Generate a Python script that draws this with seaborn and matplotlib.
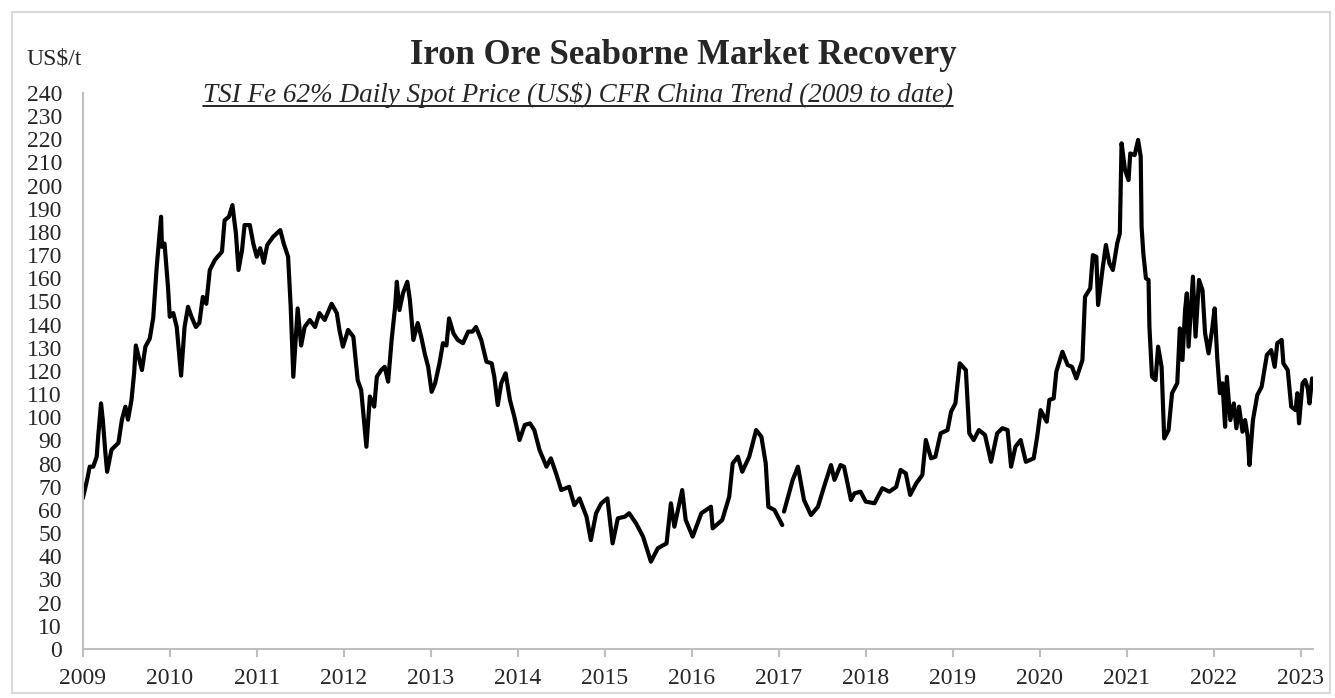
import numpy as np
import pandas as pd
import matplotlib.pyplot as plt
from matplotlib.lines import Line2D
from matplotlib.patches import Rectangle
import seaborn as sns

sns.set_style("white")
plt.rcParams['font.family'] = ['Liberation Serif', 'DejaVu Serif']

# TSI Fe 62% spot price (US$/t)
year = [
    2009.00, 2009.05, 2009.08, 2009.12, 2009.16, 2009.18, 2009.21, 2009.23, 2009.26, 2009.28,
    2009.33, 2009.41, 2009.45, 2009.49, 2009.52, 2009.56, 2009.59, 2009.61, 2009.68, 2009.72,
    2009.77, 2009.81, 2009.85, 2009.90, 2009.91, 2009.94, 2009.98, 2010.00, 2010.04, 2010.08,
    2010.13, 2010.17, 2010.21, 2010.25, 2010.30, 2010.34, 2010.38, 2010.42, 2010.46, 2010.52,
    2010.60, 2010.63, 2010.68, 2010.72, 2010.76, 2010.79, 2010.83, 2010.86, 2010.92, 2010.96,
    2011.00, 2011.04, 2011.08, 2011.12, 2011.19, 2011.27, 2011.31, 2011.36, 2011.39, 2011.42,
    2011.47, 2011.51, 2011.55, 2011.61, 2011.67, 2011.72, 2011.78, 2011.86, 2011.92, 2011.95,
    2011.99, 2012.05, 2012.11, 2012.16, 2012.20, 2012.26, 2012.30, 2012.35, 2012.38, 2012.43,
    2012.47, 2012.51, 2012.55, 2012.59, 2012.61, 2012.64, 2012.68, 2012.73, 2012.76, 2012.80,
    2012.85, 2012.89, 2012.93, 2012.97, 2013.01, 2013.05, 2013.10, 2013.14, 2013.18, 2013.21,
    2013.26, 2013.31, 2013.37, 2013.43, 2013.48, 2013.52, 2013.58, 2013.64, 2013.70, 2013.73,
    2013.77, 2013.81, 2013.86, 2013.91, 2013.96, 2014.02, 2014.08, 2014.14, 2014.19, 2014.25,
    2014.33, 2014.38, 2014.44, 2014.50, 2014.59, 2014.65, 2014.71, 2014.79, 2014.84, 2014.90,
    2014.96, 2015.03, 2015.09, 2015.15, 2015.23, 2015.28, 2015.36, 2015.44, 2015.53, 2015.61,
    2015.71, 2015.76, 2015.80, 2015.89, 2015.93, 2016.01, 2016.11, 2016.22, 2016.24, 2016.35,
    2016.43, 2016.47, 2016.53, 2016.58, 2016.66, 2016.74, 2016.80, 2016.85, 2016.88, 2016.95,
    2017.04, 2017.05, 2017.06, 2017.16, 2017.22, 2017.29, 2017.37, 2017.45, 2017.52, 2017.60,
    2017.64, 2017.71, 2017.75, 2017.83, 2017.87, 2017.94, 2018.00, 2018.10, 2018.19, 2018.27,
    2018.35, 2018.40, 2018.46, 2018.51, 2018.58, 2018.65, 2018.69, 2018.75, 2018.80, 2018.86,
    2018.94, 2018.98, 2019.03, 2019.08, 2019.15, 2019.19, 2019.24, 2019.30, 2019.37, 2019.44,
    2019.51, 2019.57, 2019.63, 2019.67, 2019.72, 2019.78, 2019.84, 2019.93, 2019.97, 2020.01,
    2020.08, 2020.11, 2020.16, 2020.19, 2020.26, 2020.32, 2020.37, 2020.42, 2020.49, 2020.52,
    2020.58, 2020.61, 2020.65, 2020.67, 2020.72, 2020.76, 2020.80, 2020.84, 2020.89, 2020.92,
    2020.94, 2020.98, 2021.02, 2021.04, 2021.09, 2021.13, 2021.16, 2021.17, 2021.19, 2021.22,
    2021.25, 2021.26, 2021.29, 2021.33, 2021.36, 2021.40, 2021.43, 2021.48, 2021.52, 2021.58,
    2021.61, 2021.64, 2021.67, 2021.69, 2021.71, 2021.76, 2021.79, 2021.83, 2021.87, 2021.90,
    2021.94, 2021.98, 2022.01, 2022.04, 2022.07, 2022.10, 2022.13, 2022.15, 2022.19, 2022.23,
    2022.26, 2022.29, 2022.33, 2022.36, 2022.39, 2022.41, 2022.45, 2022.50, 2022.55, 2022.61,
    2022.66, 2022.70, 2022.73, 2022.78, 2022.80, 2022.85, 2022.89, 2022.94, 2022.96, 2022.98,
    2023.02, 2023.05, 2023.08, 2023.10, 2023.13,
]
price = [
    65.0, 73.0, 78.7, 78.7, 83.0, 93.0, 106.0, 99.0, 84.6, 76.5,
    86.0, 89.0, 99.0, 104.6, 99.0, 107.5, 119.0, 131.0, 120.4, 130.5,
    134.0, 143.0, 165.0, 186.6, 173.6, 175.0, 156.0, 143.4, 145.0, 139.0,
    118.0, 139.0, 147.7, 143.4, 139.0, 140.7, 152.0, 149.0, 163.6, 168.0,
    171.5, 185.0, 186.6, 191.6, 179.5, 163.6, 172.0, 183.0, 183.0, 175.0,
    169.3, 173.0, 166.7, 174.4, 178.0, 180.8, 175.0, 169.3, 147.7, 117.5,
    147.0, 131.0, 139.0, 142.0, 139.0, 145.0, 142.0, 149.0, 145.0, 137.7,
    130.5, 137.7, 134.8, 116.0, 111.8, 87.3, 109.0, 104.6, 117.5, 120.4,
    121.8, 115.4, 133.4, 147.7, 158.5, 146.3, 153.5, 158.5, 150.6, 133.4,
    140.7, 134.8, 127.6, 121.8, 111.0, 114.7, 123.3, 132.0, 131.0, 142.7,
    136.3, 133.4, 132.0, 137.0, 137.0, 139.0, 133.4, 124.0, 123.3, 117.5,
    105.3, 114.7, 119.0, 107.5, 100.3, 90.2, 96.7, 97.4, 94.5, 85.9,
    78.7, 82.3, 75.8, 68.6, 70.0, 62.1, 65.0, 57.1, 47.0, 58.6,
    62.9, 65.0, 45.6, 56.4, 57.1, 58.6, 54.2, 48.5, 37.7, 43.5,
    45.6, 62.9, 52.8, 68.6, 55.7, 48.5, 58.6, 61.4, 52.1, 55.7,
    65.7, 80.1, 83.0, 76.5, 83.0, 94.5, 91.6, 80.1, 61.4, 60.0,
    53.5, np.nan, 59.3, 73.0, 78.7, 64.3, 57.8, 61.4, 70.0, 79.4,
    73.0, 79.4, 78.7, 64.3, 67.2, 67.9, 63.6, 62.9, 69.4, 67.9,
    70.0, 77.3, 75.8, 66.5, 71.5, 75.1, 90.2, 82.3, 83.0, 93.1,
    94.5, 102.4, 106.0, 123.3, 120.4, 93.1, 90.2, 94.5, 92.4, 80.8,
    93.1, 95.3, 94.5, 78.7, 87.3, 90.2, 80.8, 82.3, 91.6, 103.1,
    98.1, 107.5, 108.2, 119.7, 128.3, 122.6, 121.8, 116.8, 124.7, 152.0,
    155.7, 170.0, 169.3, 148.5, 163.6, 174.4, 166.5, 163.6, 175.1, 179.4,
    218.3, 206.7, 202.4, 213.9, 213.2, 219.7, 212.5, 182.3, 170.8, 160.0,
    159.3, 139.1, 117.5, 116.1, 130.5, 121.8, 90.9, 94.5, 110.4, 114.7,
    138.4, 124.7, 146.3, 153.5, 130.5, 160.7, 134.8, 159.3, 154.9, 136.3,
    127.6, 137.7, 147.0, 125.5, 110.4, 114.7, 95.9, 117.5, 98.8, 106.0,
    95.3, 104.6, 93.8, 98.8, 91.6, 79.4, 98.8, 109.6, 113.2, 126.9,
    129.0, 121.8, 132.0, 133.4, 123.3, 120.4, 104.6, 103.1, 110.4, 97.4,
    114.7, 116.1, 112.5, 106.0, 116.8,
]
year_ticks = list(range(2009, 2024))
price_ticks = list(range(0, 241, 10))

df = pd.DataFrame({"year": year, "price": price})
df["seg"] = df["price"].isna().cumsum()
df = df.dropna()

fig = plt.figure(figsize=(13.35, 6.98), dpi=100)
ax = fig.add_axes([0.062, 0.0702, 0.9215, 0.7966])

sns.lineplot(data=df, x="year", y="price", units="seg", estimator=None,
             color="black", linewidth=3.0, ax=ax, legend=False)

ax.set_xlim(2009, 2023.14)
ax.set_ylim(0, 240)
ax.set_xticks(year_ticks)
ax.set_xticklabels([str(y) for y in year_ticks])
ax.set_yticks(price_ticks)
ax.set_yticklabels([str(p) for p in price_ticks])
ax.set_xlabel("")
ax.set_ylabel("")

for side in ["top", "right"]:
    ax.spines[side].set_visible(False)
for side in ["left", "bottom"]:
    ax.spines[side].set_color("#bfbfbf")
    ax.spines[side].set_linewidth(1.5)

ax.tick_params(axis="x", bottom=True, length=6, width=1.5, color="#bfbfbf",
               direction="out", labelsize=17, pad=7.5)
ax.tick_params(axis="y", left=False, labelsize=17, pad=11.5)

# titles
fig.text(26 / 1335, 1 - 65 / 698, "US$/t", fontsize=17, ha="left", va="baseline")
fig.text(683 / 1335, 1 - 64 / 698, "Iron Ore Seaborne Market Recovery",
         fontsize=25, fontweight="bold", ha="center", va="baseline")
sub = fig.text(578 / 1335, 1 - 102 / 698,
               "TSI Fe 62% Daily Spot Price (US$) CFR China Trend (2009 to date)",
               fontsize=19.5, style="italic", ha="center", va="baseline")

# underline the subtitle
renderer = fig.canvas.get_renderer()
bb = sub.get_window_extent(renderer=renderer)
uy = 1 - 105.5 / 698
fig.add_artist(Line2D([bb.x0 / fig.bbox.width, bb.x1 / fig.bbox.width], [uy, uy],
                      transform=fig.transFigure, color="black", linewidth=1.2))

# light frame around the chart
fig.add_artist(Rectangle((12 / 1335, 5 / 698), 1318 / 1335, 681 / 698,
                         transform=fig.transFigure, fill=False,
                         edgecolor="#d9d9d9", linewidth=1.5))

fig.savefig("out.png", dpi=100)
